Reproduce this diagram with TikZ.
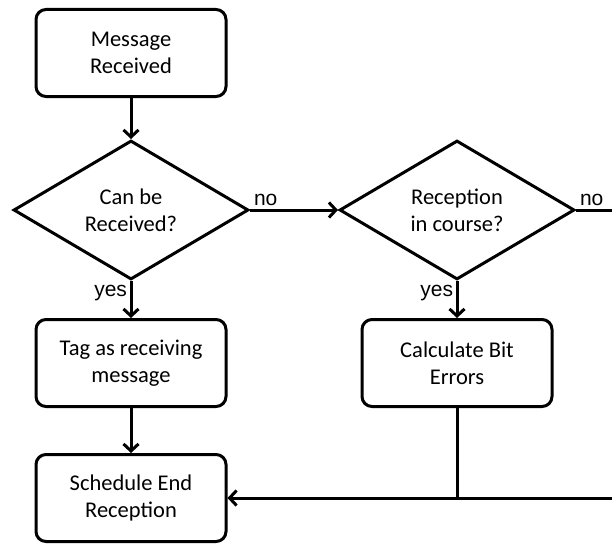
\documentclass[tikz,border=0pt]{standalone}
\usepackage{fontspec}
\setmainfont{Carlito}
\newfontfamily\labelfont{Liberation Sans}
\usetikzlibrary{arrows.meta,shapes.geometric,positioning}

\begin{document}
\begin{tikzpicture}[x=1pt,y=-1pt,line width=3pt,
                    >={Straight Barb[length=7pt,width=15pt]},
                    font=\fontsize{22.5}{27}\selectfont,
                    box/.style={draw,rounded corners=10pt,align=center,
                                minimum width=190pt,minimum height=87pt},
                    test/.style={draw,diamond,aspect=1.69,align=center,inner sep=0pt,
                                 minimum width=235pt,minimum height=139pt},
                    lbl/.style={draw=none,inner sep=2.5pt,font=\fontsize{21}{25}\labelfont}]

\useasboundingbox (0,0) rectangle (612,543);

\node[box] (rx) at(131,53) {Message\\Received};
\node[test] (can) at(131,210) {Can be\\Received?};
\node[test] (inc) at(457,210) {Reception\\in course?};
\node[box] (tag) at(131,363) {Tag as receiving\\message};
\node[box] (calc) at(457,363) {Calculate Bit\\Errors};
\node[box] (sched) at(131,498) {Schedule End\\Reception};

\coordinate (out) at(618,210);

\draw[->] (rx) -- (can);
\draw[->] (can.east) -- node[lbl,above right,pos=0]{no} (inc.west);
\draw[->] (can.south) -- node[lbl,below left,pos=0]{yes} (tag);
\draw[->] (tag) -- (sched);
\draw[->] (inc.south) -- node[lbl,below left,pos=0]{yes} (calc);
\draw[->] (inc.east) -- node[lbl,above right,pos=0]{no} (out)
          -- (out |- sched.east) -- (sched.east);
\draw (calc.south) -- (calc.south |- sched.east);

\end{tikzpicture}
\end{document}
